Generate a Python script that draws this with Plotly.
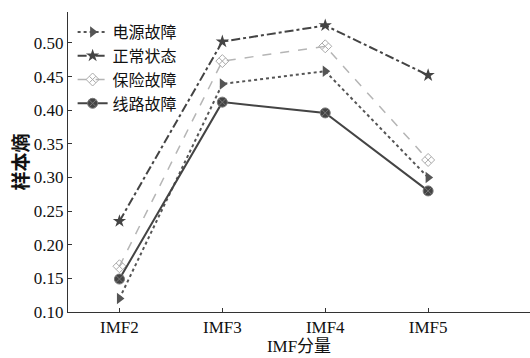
import plotly.graph_objects as go

categories = ["IMF2", "IMF3", "IMF4", "IMF5"]
power_fault = [0.12, 0.439, 0.458, 0.30]
normal_state = [0.235, 0.502, 0.526, 0.452]
fuse_fault = [0.168, 0.473, 0.495, 0.326]
line_fault = [0.149, 0.412, 0.396, 0.28]

series = [
    ("电源故障", power_fault, dict(color="#555555", width=2, dash="dot"), dict(symbol="triangle-right", size=10, color="#555555")),
    ("正常状态", normal_state, dict(color="#444444", width=2, dash="dashdot"), dict(symbol="star", size=10, color="#444444")),
    ("保险故障", fuse_fault, dict(color="#b5b5b5", width=1.5, dash="dash"), dict(symbol="diamond-x-open", size=10, color="#aaaaaa")),
    ("线路故障", line_fault, dict(color="#444444", width=2, dash="solid"), dict(symbol="circle-x", size=10, color="#444444", line=dict(color="#777777", width=1))),
]

fig = go.Figure()
for name, vals, ln, mk in series:
    fig.add_trace(go.Scatter(x=list(range(len(categories))), y=vals, name=name,
                             mode="lines+markers", line=ln, marker=mk))

fig.update_layout(
    width=530, height=358,
    margin=dict(l=68, r=0, t=12, b=46),
    plot_bgcolor="white", paper_bgcolor="white",
    font=dict(family="Liberation Serif, Noto Sans CJK SC", size=16, color="#111111"),
    legend=dict(x=0.01, y=0.99, xanchor="left", yanchor="top",
                font=dict(family="Noto Sans CJK SC", size=16, color="#111111"),
                bgcolor="rgba(0,0,0,0)", tracegroupgap=0, itemwidth=30),
    showlegend=True,
)
fig.update_xaxes(
    range=[-0.5, 3.99], tickmode="array", tickvals=list(range(len(categories))),
    ticktext=categories, showgrid=False, zeroline=False,
    showline=True, linecolor="#333333", linewidth=1,
    ticks="inside", ticklen=4, tickcolor="#333333",
    tickfont=dict(family="Liberation Serif", size=17),
    title=dict(text="IMF分量", font=dict(family="Liberation Serif, Noto Sans CJK SC", size=17), standoff=2),
)
fig.update_yaxes(
    range=[0.10, 0.546], tickvals=[0.10, 0.15, 0.20, 0.25, 0.30, 0.35, 0.40, 0.45, 0.50],
    tickformat=".2f", showgrid=False, zeroline=False,
    showline=True, linecolor="#333333", linewidth=1,
    ticks="inside", ticklen=4, tickcolor="#333333",
    tickfont=dict(family="Liberation Serif", size=17),
    title=dict(text="<b>样本熵</b>", font=dict(family="Noto Sans CJK SC", size=19), standoff=0),
)
fig.write_html("out.html")
